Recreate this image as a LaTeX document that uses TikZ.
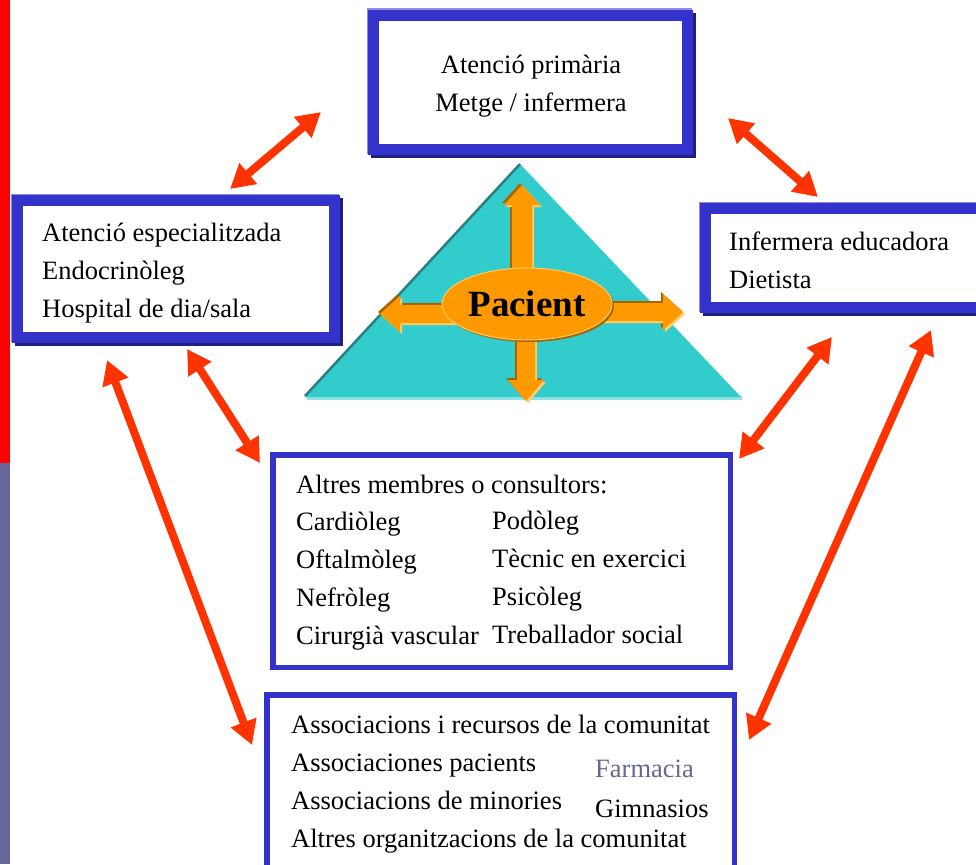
\documentclass[tikz,border=0pt]{standalone}
\usepackage{fontspec}
\setmainfont{Liberation Serif}
\usetikzlibrary{arrows.meta,shadows,shapes.geometric}

\definecolor{frameblue}{HTML}{3333CC}
\definecolor{frameshade}{HTML}{1F1F80}
\definecolor{framelight}{HTML}{8C8CE6}
\definecolor{tricyan}{HTML}{33CCCC}
\definecolor{tridark}{HTML}{2A8080}
\definecolor{pacorange}{HTML}{FF9900}
\definecolor{pacshade}{HTML}{A86400}
\definecolor{paclight}{HTML}{FFCC66}
\definecolor{linkred}{HTML}{FF3300}
\definecolor{slate}{HTML}{666699}

\tikzset{
  txt/.style={font=\fontsize{26.5}{38}\selectfont,inner sep=0pt,align=left,anchor=base west},
  heavybox/.style={draw=frameblue,line width=11pt,fill=white,inner sep=0pt,
    general shadow={shadow xshift=-1.5pt,shadow yshift=1.5pt,draw=framelight,line width=11pt},
    general shadow={shadow xshift=3pt,shadow yshift=-3pt,draw=frameshade,line width=11pt}},
  thinbox/.style={draw=frameblue,line width=5.5pt,fill=white,inner sep=0pt},
  link/.style={draw=linkred,line width=8pt,{Triangle[length=24pt,width=26pt]}-{Triangle[length=24pt,width=26pt]}},
  blockarr/.style={fill=pacorange,
    general shadow={shadow xshift=-2pt,shadow yshift=2pt,fill=pacshade},
    general shadow={shadow xshift=2pt,shadow yshift=-2pt,fill=paclight}},
}

\begin{document}
\begin{tikzpicture}[x=1pt,y=-1pt]
  \useasboundingbox (0,0) rectangle (976,864);
  \clip (0,0) rectangle (976,864);

  % side bar
  \fill[red] (0,0) rectangle (10,463);
  \fill[slate] (0,463) rectangle (10,864);

  % triangle
  \fill[tricyan!55] (307,396) -- (742,396) -- (742,400) -- (307,400) -- cycle;
  \fill[tricyan] (520,164) -- (741,397) -- (305,397) -- cycle;
  \draw[tridark,line width=2.5pt] (305,396) -- (520,164);

  % arrows out of the patient
  \fill[blockarr] (512,300) -- (512,205) -- (504,205) -- (522,185) -- (540,205) -- (532,205) -- (532,300) -- cycle;
  \fill[blockarr] (517,300) -- (517,380) -- (508,380) -- (526,401) -- (544,380) -- (535,380) -- (535,300) -- cycle;
  \fill[blockarr] (527,305) -- (400,305) -- (400,296) -- (380,314) -- (400,332) -- (400,323) -- (527,323) -- cycle;
  \fill[blockarr] (527,303) -- (663,303) -- (663,294) -- (683,312) -- (663,330) -- (663,321) -- (527,321) -- cycle;

  \node[ellipse,minimum width=170pt,minimum height=72pt,inner sep=0pt,fill=pacorange,draw=paclight,line width=1pt,
    general shadow={shadow xshift=2pt,shadow yshift=-2pt,fill=pacshade},
    font=\bfseries\fontsize{37}{40}\selectfont] (pac) at (527,304) {Pacient};

  % boxes
  \node[heavybox,minimum width=314pt,minimum height=134pt] (prim) at (530.5,82.5) {};
  \node[heavybox,minimum width=317pt,minimum height=137pt] (esp) at (176,269) {};
  \node[heavybox,minimum width=279pt,minimum height=99pt] (inf) at (845,258) {};
  \node[thinbox,minimum width=457.5pt,minimum height=212.5pt] (alt) at (501.5,561) {};
  \node[thinbox,minimum width=467.5pt,minimum height=182.5pt] (com) at (500.5,786) {};

  \node[txt,anchor=base,align=center] (prim-txt) at (531,112) {Atenció primària\\Metge / infermera};
  \node[txt] (esp-txt) at (42,317) {Atenció especialitzada\\Endocrinòleg\\Hospital de dia/sala};
  \node[txt] (inf-txt) at (729,288) {Infermera educadora\\Dietista};
  \node[txt] (alt-head) at (296,493) {Altres membres o consultors:};
  \node[txt] (alt-esq) at (296,644) {Cardiòleg\\Oftalmòleg\\Nefròleg\\Cirurgià vascular};
  \node[txt] (alt-dre) at (492,643) {Podòleg\\Tècnic en exercici\\Psicòleg\\Treballador social};
  \node[txt] (com-esq) at (291,847) {Associacions i recursos de la comunitat\\Associaciones pacients\\Associacions de minories\\Altres organitzacions de la comunitat};
  \node[txt,text=slate] (farm) at (595,777) {Farmacia};
  \node[txt] (gimn) at (595,817) {Gimnasios};

  % links
  \coordinate (esp-n) at (230,189);
  \coordinate (prim-w) at (321,112);
  \coordinate (prim-e) at (728,118);
  \coordinate (inf-n) at (818,197);
  \coordinate (esp-s) at (187,349);
  \coordinate (alt-nw) at (260,463);
  \coordinate (esp-sw) at (107,360);
  \coordinate (com-nw) at (252,745);
  \coordinate (inf-s) at (832,337);
  \coordinate (alt-ne) at (739,459);
  \coordinate (inf-se) at (931,330);
  \coordinate (com-ne) at (749,740);

  \draw[link] (esp-n) -- (prim-w);
  \draw[link] (prim-e) -- (inf-n);
  \draw[link] (esp-s) -- (alt-nw);
  \draw[link] (esp-sw) -- (com-nw);
  \draw[link] (inf-s) -- (alt-ne);
  \draw[link] (inf-se) -- (com-ne);
\end{tikzpicture}
\end{document}
